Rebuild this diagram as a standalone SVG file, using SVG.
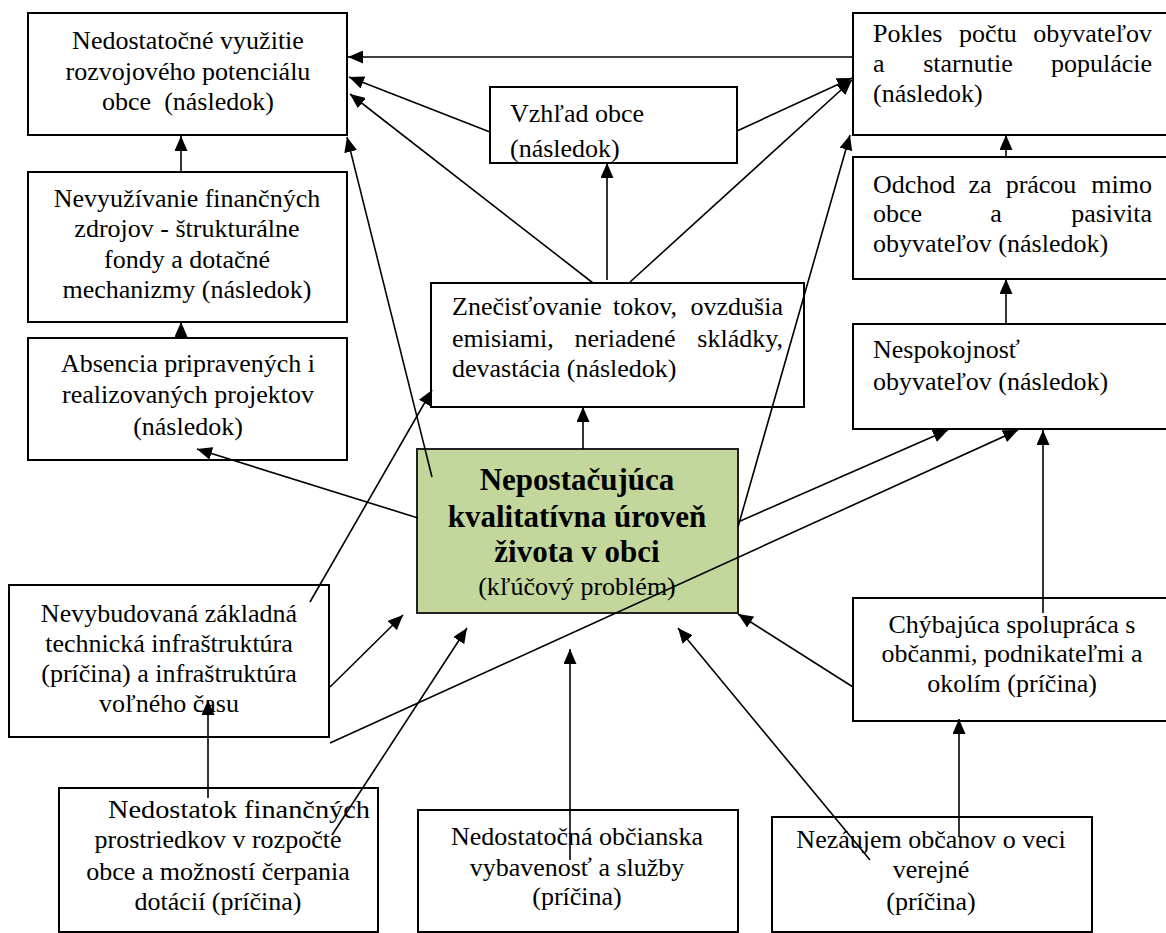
<svg xmlns="http://www.w3.org/2000/svg" width="1166" height="933" viewBox="0 0 1166 933">
<style>
.box{fill:#fff;stroke:#000;stroke-width:2}
.key{fill:#c3d69b;stroke:#222;stroke-width:2}
text{font-family:"Liberation Serif","Times New Roman",serif;font-size:26px;fill:#000}
.c{text-anchor:middle}
.e{text-anchor:end}
.b{font-weight:bold;font-size:31px}
.ln{stroke:#000;stroke-width:1.6;fill:none;marker-end:url(#ah)}
</style>
<defs>
<marker id="ah" markerUnits="userSpaceOnUse" markerWidth="15" markerHeight="13" refX="15" refY="6.5" orient="auto">
<path d="M0,0 L15,6.5 L0,13 z" fill="#000"/>
</marker>
<clipPath id="clipV"><rect x="490" y="87" width="247" height="76"/></clipPath>
</defs>
<rect width="1166" height="933" fill="#fff"/>

<g id="n1">
<rect class="box" x="28" y="13" width="319" height="122"/>
<text class="c" x="188" y="49">Nedostatočné využitie</text>
<text class="c" x="188" y="80">rozvojového potenciálu</text>
<text class="c" x="188" y="110" xml:space="preserve">obce  (následok)</text>
</g>
<g id="n2">
<rect class="box" x="28" y="172" width="319" height="150"/>
<text class="c" x="187" y="207">Nevyužívanie finančných</text>
<text class="c" x="187" y="237">zdrojov - štrukturálne</text>
<text class="c" x="187" y="268">fondy a dotačné</text>
<text class="c" x="187" y="298">mechanizmy (následok)</text>
</g>
<g id="n3">
<rect class="box" x="28" y="338" width="319" height="122"/>
<text class="c" x="188" y="372">Absencia pripravených i</text>
<text class="c" x="188" y="403">realizovaných projektov</text>
<text class="c" x="188" y="435">(následok)</text>
</g>
<g id="n4">
<rect class="box" x="490" y="87" width="247" height="76"/>
<g clip-path="url(#clipV)">
<text x="510" y="122">Vzhľad obce</text>
<text x="510" y="157">(následok)</text>
</g>
</g>
<g id="n5">
<rect class="box" x="431" y="283" width="373" height="124"/>
<text y="315"><tspan x="452">Znečisťovanie</tspan><tspan class="c" x="645">tokov,</tspan><tspan class="e" x="783">ovzdušia</tspan></text>
<text y="347"><tspan x="452">emisiami,</tspan><tspan class="c" x="625">neriadené</tspan><tspan class="e" x="783">skládky,</tspan></text>
<text x="452" y="377">devastácia (následok)</text>
</g>
<g id="n6">
<rect class="key" x="417" y="449" width="321" height="164"/>
<text class="c b" x="577" y="490">Nepostačujúca</text>
<text class="c b" x="577" y="527">kvalitatívna úroveň</text>
<text class="c b" x="577" y="562">života v obci</text>
<text class="c" x="577" y="595">(kľúčový problém)</text>
</g>
<g id="n7">
<rect class="box" x="853" y="13" width="320" height="122"/>
<text y="42"><tspan x="873">Pokles</tspan><tspan class="c" x="988">počtu</tspan><tspan class="e" x="1152">obyvateľov</tspan></text>
<text y="72"><tspan x="873">a</tspan><tspan class="c" x="968">starnutie</tspan><tspan class="e" x="1152">populácie</tspan></text>
<text x="873" y="102">(následok)</text>
</g>
<g id="n8">
<rect class="box" x="853" y="157" width="320" height="122"/>
<text y="193"><tspan x="873">Odchod</tspan><tspan class="c" x="980">za</tspan><tspan class="c" x="1041">prácou</tspan><tspan class="e" x="1152">mimo</tspan></text>
<text y="222"><tspan x="873">obce</tspan><tspan class="c" x="996">a</tspan><tspan class="e" x="1152">pasivita</tspan></text>
<text x="873" y="252">obyvateľov (následok)</text>
</g>
<g id="n9">
<rect class="box" x="853" y="324" width="320" height="105"/>
<text x="873" y="358">Nespokojnosť</text>
<text x="873" y="390">obyvateľov (následok)</text>
</g>
<g id="n10">
<rect class="box" x="853" y="598" width="320" height="123"/>
<text class="c" x="1012" y="633">Chýbajúca spolupráca s</text>
<text class="c" x="1012" y="662">občanmi, podnikateľmi a</text>
<text class="c" x="1012" y="692">okolím (príčina)</text>
</g>
<g id="n11">
<rect class="box" x="9" y="585" width="320" height="152"/>
<text class="c" x="169" y="622">Nevybudovaná základná</text>
<text class="c" x="169" y="652">technická infraštruktúra</text>
<text class="c" x="169" y="682">(príčina) a infraštruktúra</text>
<text class="c" x="169" y="712">voľného času</text>
</g>
<g id="n12">
<rect class="box" x="59" y="788" width="319" height="144"/>
<text x="108" y="818" textLength="262" lengthAdjust="spacingAndGlyphs">Nedostatok finančných</text>
<text class="c" x="218" y="848">prostriedkov v rozpočte</text>
<text class="c" x="218" y="880">obce a možností čerpania</text>
<text class="c" x="218" y="910">dotácií (príčina)</text>
</g>
<g id="n13">
<rect class="box" x="418" y="810" width="320" height="122"/>
<text class="c" x="577" y="845">Nedostatočná občianska</text>
<text class="c" x="577" y="876">vybavenosť a služby</text>
<text class="c" x="577" y="905">(príčina)</text>
</g>
<g id="n14">
<rect class="box" x="772" y="817" width="320" height="115"/>
<text class="c" x="931" y="848">Nezáujem občanov o veci</text>
<text class="c" x="931" y="878">verejné</text>
<text class="c" x="931" y="910">(príčina)</text>
</g>

<g id="connectors">
<line class="ln" x1="852" y1="57" x2="348" y2="57"/>
<line class="ln" x1="490" y1="132" x2="349" y2="77"/>
<line class="ln" x1="593" y1="283" x2="350" y2="94"/>
<line class="ln" x1="432" y1="477" x2="347" y2="137"/>
<line class="ln" x1="181" y1="172" x2="181" y2="136"/>
<line class="ln" x1="181" y1="338" x2="181" y2="322"/>
<line class="ln" x1="418" y1="518" x2="197" y2="449"/>
<line class="ln" x1="607" y1="280" x2="607" y2="163"/>
<line class="ln" x1="737" y1="131" x2="852" y2="78"/>
<line class="ln" x1="630" y1="282" x2="852" y2="80"/>
<line class="ln" x1="738" y1="527" x2="850" y2="135"/>
<line class="ln" x1="1006" y1="157" x2="1006" y2="135"/>
<line class="ln" x1="1006" y1="324" x2="1006" y2="279"/>
<line class="ln" x1="583" y1="449" x2="583" y2="407"/>
<line class="ln" x1="310" y1="602" x2="432" y2="390"/>
<line class="ln" x1="738" y1="522" x2="948" y2="430"/>
<line class="ln" x1="330" y1="743" x2="1018" y2="430"/>
<line class="ln" x1="1043" y1="613" x2="1043" y2="430"/>
<line class="ln" x1="853" y1="687" x2="738" y2="614"/>
<line class="ln" x1="870" y1="860" x2="678" y2="628"/>
<line class="ln" x1="959" y1="837" x2="959" y2="719"/>
<line class="ln" x1="570" y1="860" x2="570" y2="649"/>
<line class="ln" x1="332" y1="835" x2="467" y2="628"/>
<line class="ln" x1="330" y1="687" x2="403" y2="615"/>
<line class="ln" x1="208" y1="798" x2="208" y2="700"/>
</g>
</svg>
